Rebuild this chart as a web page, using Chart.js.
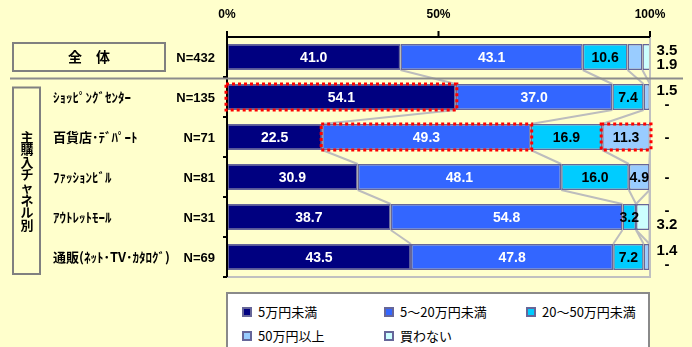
<!DOCTYPE html>
<html>
<head>
<meta charset="utf-8">
<script src="https://cdn.jsdelivr.net/npm/chart.js@4/dist/chart.umd.min.js"></script>
<style>
  html, body { margin: 0; padding: 0; background: #FFFFCC; }
  #wrap { position: relative; width: 692px; height: 347px; overflow: hidden; }
  #chart { position: absolute; left: 0; top: 0; }
  #legend {
    position: absolute; left: 226px; top: 292px; width: 420px; height: 70px;
    background: #fff; border: 2px solid #8a8a8a;
    font: 13px "Noto Sans CJK JP", sans-serif; color: #000;
  }
  .legend-item { position: absolute; display: flex; align-items: center; white-space: nowrap; }
  .legend-color { width: 6px; height: 6px; border: 2px solid #666699; margin-right: 6px; }
</style>
</head>
<body>
<div id="wrap">
  <canvas id="chart" width="692" height="347"></canvas>
  <div id="legend"></div>
</div>
<script>
const groups = ['全　体', 'ｼｮｯﾋﾟﾝｸﾞｾﾝﾀｰ', '百貨店･ﾃﾞﾊﾟｰﾄ', 'ﾌｧｯｼｮﾝﾋﾞﾙ', 'ｱｳﾄﾚｯﾄﾓｰﾙ', '通販(ﾈｯﾄ･TV･ｶﾀﾛｸﾞ)'];
const sampleSizes = ['N=432', 'N=135', 'N=71', 'N=81', 'N=31', 'N=69'];
const channelTitle = '主購入チャネル別';

const under5 = [41.0, 54.1, 22.5, 30.9, 38.7, 43.5];
const from5to20 = [43.1, 37.0, 49.3, 48.1, 54.8, 47.8];
const from20to50 = [10.6, 7.4, 16.9, 16.0, 3.2, 7.2];
const over50 = [3.5, 1.5, 11.3, 4.9, 0, 1.4];
const noBuy = [1.9, 0, 0, 0, 3.2, 0];

const seriesNames = ['5万円未満', '5～20万円未満', '20～50万円未満', '50万円以上', '買わない'];
const seriesColors = ['#000080', '#3366FF', '#00CCFF', '#99CCFF', '#CCFFFF'];
const labelColors = ['#fff', '#fff', '#000', '#000', '#000'];

// small values written at the right of the bars (50万円以上 / 買わない)
const rightTop = ['3.5', '1.5', '', '', '-', '1.4'];
const rightBottom = ['1.9', '-', '-', '-', '3.2', '-'];

const xTicks = [0, 50, 100];
// [row, series] segments circled with red dots
const highlights = [[1, 0], [2, 1], [2, 3]];

const numFont = '"Liberation Sans", Arial, sans-serif';
const jpFont = '"Noto Sans CJK JP", sans-serif';

const allSeries = [under5, from5to20, from20to50, over50, noBuy];

const decorations = {
    id: 'decorations',
    beforeDatasetsDraw(chart) {
        const { ctx, scales: { x } } = chart;
        const metas = allSeries.map((_, i) => chart.getDatasetMeta(i));
        // series lines between neighbouring bars
        ctx.save();
        ctx.strokeStyle = '#BDBDBD';
        ctx.lineWidth = 2;
        for (let r = 0; r < groups.length - 1; r++) {
            let cumA = 0, cumB = 0;
            for (let s = 0; s < allSeries.length; s++) {
                cumA += allSeries[s][r];
                cumB += allSeries[s][r + 1];
                const a = metas[s].data[r], b = metas[s].data[r + 1];
                ctx.beginPath();
                ctx.moveTo(x.getPixelForValue(Math.min(cumA, 100)), a.y + a.height / 2);
                ctx.lineTo(x.getPixelForValue(Math.min(cumB, 100)), b.y - b.height / 2);
                ctx.stroke();
            }
        }
        ctx.restore();
    },
    afterDatasetsDraw(chart) {
        const { ctx, chartArea: area, scales: { x, y } } = chart;
        const metas = allSeries.map((_, i) => chart.getDatasetMeta(i));
        ctx.save();

        // right & bottom grey frame
        ctx.strokeStyle = '#C0C0C0';
        ctx.lineWidth = 2;
        ctx.beginPath();
        ctx.moveTo(area.right, area.top);
        ctx.lineTo(area.right, area.bottom);
        ctx.lineTo(area.left, area.bottom);
        ctx.stroke();

        // top axis + left axis
        ctx.strokeStyle = '#000';
        ctx.lineWidth = 2;
        ctx.beginPath();
        ctx.moveTo(area.left, area.top);
        ctx.lineTo(area.right, area.top);
        ctx.moveTo(area.left, area.top);
        ctx.lineTo(area.left, area.bottom);
        xTicks.forEach(t => {
            const px = x.getPixelForValue(t);
            ctx.moveTo(px, area.top);
            ctx.lineTo(px, area.top - 6);
        });
        for (let r = 1; r <= groups.length; r++) {
            const py = (y.getPixelForValue(r - 1) + y.getPixelForValue(Math.min(r, groups.length - 1))) / 2;
            const yy = r === groups.length ? area.bottom : py;
            ctx.moveTo(area.left - 4, yy);
            ctx.lineTo(area.left, yy);
        }
        ctx.stroke();

        ctx.fillStyle = '#000';
        ctx.font = 'bold 12px ' + numFont;
        ctx.textAlign = 'center';
        ctx.textBaseline = 'middle';
        xTicks.forEach(t => ctx.fillText(t + '%', x.getPixelForValue(t), 15));

        // values inside the segments
        ctx.font = 'bold 14px ' + numFont;
        allSeries.forEach((vals, s) => {
            vals.forEach((v, r) => {
                if (!v || !(s <= 2 || v >= 4)) return;
                const bar = metas[s].data[r];
                ctx.fillStyle = labelColors[s];
                ctx.fillText(v.toFixed(1), (bar.x + bar.base) / 2, bar.y + 1);
            });
        });

        // small values at the right
        ctx.fillStyle = '#000';
        ctx.font = 'bold 15px ' + numFont;
        groups.forEach((g, r) => {
            const cy = y.getPixelForValue(r);
            if (rightTop[r]) {
                ctx.fillText(rightTop[r], 667, cy - 6);
                ctx.fillText(rightBottom[r], 667, cy + 8);
            } else {
                ctx.fillText(rightBottom[r], 667, cy + 1);
            }
        });

        // red dotted highlight boxes
        ctx.strokeStyle = '#FF0000';
        ctx.lineWidth = 3;
        ctx.setLineDash([3, 3]);
        highlights.forEach(([r, s]) => {
            const bar = metas[s].data[r];
            ctx.strokeRect(bar.base - 1, bar.y - bar.height / 2, bar.x - bar.base + 2, bar.height);
        });
        ctx.setLineDash([]);

        // separator between total and channels
        const sepY = (y.getPixelForValue(0) + y.getPixelForValue(1)) / 2 + 1.5;
        ctx.strokeStyle = '#8C8C8C';
        ctx.lineWidth = 2;
        ctx.beginPath();
        ctx.moveTo(10, sepY);
        ctx.lineTo(683, sepY);
        ctx.stroke();

        // left boxes
        ctx.strokeStyle = '#808080';
        ctx.lineWidth = 2;
        const y0 = y.getPixelForValue(0);
        ctx.strokeRect(13, y0 - 14, 152, 28);
        ctx.strokeRect(13, sepY + 9, 27, area.bottom - sepY - 12);

        ctx.fillStyle = '#000';
        ctx.font = 'bold 14px ' + jpFont;
        ctx.fillText(groups[0], 89, y0);

        const chars = [...channelTitle];
        const midY = (sepY + 9 + area.bottom - 3) / 2;
        ctx.font = 'bold 13px ' + jpFont;
        chars.forEach((c, i) => {
            ctx.fillText(c, 27, midY + (i - (chars.length - 1) / 2) * 12.6);
        });

        ctx.textAlign = 'left';
        ctx.font = 'bold 13px ' + jpFont;
        groups.forEach((g, r) => {
            if (r === 0) return;
            ctx.fillText(g, 53, y.getPixelForValue(r));
        });

        ctx.textAlign = 'right';
        ctx.font = 'bold 13px ' + numFont;
        sampleSizes.forEach((n, r) => ctx.fillText(n, 215, y.getPixelForValue(r) + 1));

        ctx.restore();
    }
};

new Chart(document.getElementById('chart').getContext('2d'), {
    type: 'bar',
    data: {
        labels: groups,
        datasets: allSeries.map((vals, i) => ({
            label: seriesNames[i],
            data: vals,
            backgroundColor: seriesColors[i],
            borderColor: '#666699',
            borderWidth: 1.5,
            borderSkipped: false,
            barPercentage: 0.65,
            categoryPercentage: 1
        }))
    },
    options: {
        indexAxis: 'y',
        responsive: false,
        animation: false,
        layout: { padding: { left: 227, right: 42, top: 37, bottom: 70 } },
        scales: {
            x: { stacked: true, min: 0, max: 100, display: false },
            y: { stacked: true, display: false }
        },
        plugins: {
            legend: { display: false },
            tooltip: { enabled: false }
        }
    },
    plugins: [decorations]
});

// legend
const legend = document.getElementById('legend');
const legendPos = [[14, 8], [156, 8], [298, 8], [14, 32], [156, 32]];
seriesNames.forEach((name, i) => {
    const item = document.createElement('div');
    item.className = 'legend-item';
    item.style.left = legendPos[i][0] + 'px';
    item.style.top = legendPos[i][1] + 'px';
    const box = document.createElement('div');
    box.className = 'legend-color';
    box.style.backgroundColor = seriesColors[i];
    const label = document.createElement('span');
    label.textContent = name;
    item.appendChild(box);
    item.appendChild(label);
    legend.appendChild(item);
});
</script>
</body>
</html>
